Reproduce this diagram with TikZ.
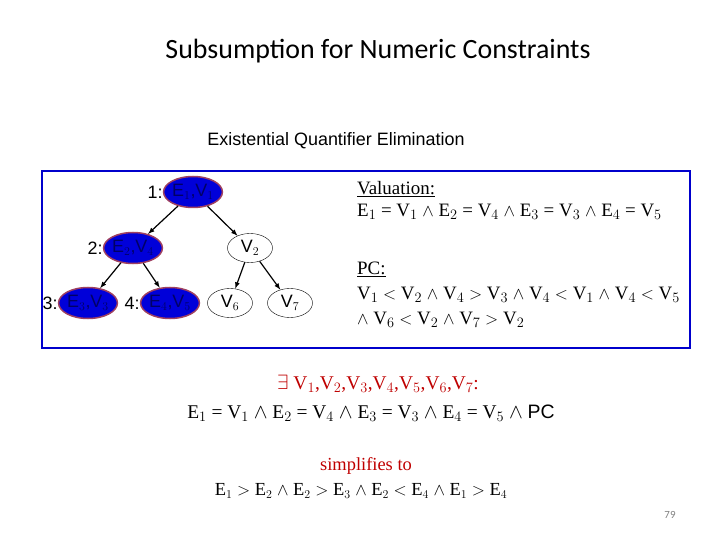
\documentclass[tikz,border=0pt]{standalone}
\usepackage{fontspec}
\setmainfont{Liberation Serif}
\setsansfont{Liberation Sans}
\newfontfamily\carlitofont{Carlito}
\usetikzlibrary{shapes.geometric}
\begin{document}
\begin{tikzpicture}[x=1bp,y=-1bp,
 fill node/.style={ellipse,fill=blue!85!black,draw=purple!50!gray,line width=1.5bp,minimum width=54bp,minimum height=31bp,inner sep=0pt,font=\sffamily\fontsize{18}{18}\selectfont,text=blue!40!black},
 open node/.style={ellipse,draw=black,minimum width=45bp,minimum height=29bp,inner sep=0pt,font=\sffamily\fontsize{18}{18}\selectfont},
 lab/.style={font=\sffamily\fontsize{18}{18}\selectfont,anchor=east,inner sep=0pt},
 arr/.style={-latex,line width=1.2bp}]
\useasboundingbox (0,0) rectangle (720,540);
\node[font=\carlitofont\fontsize{28}{28}\selectfont] (title) at (378,51) {Subsumption for Numeric Constraints};
\node[font=\sffamily\fontsize{18}{18}\selectfont] (sub) at (336,141) {Existential Quantifier Elimination};
\draw[blue!80!black,line width=2.5bp] (42,171) rectangle (690,348);
\node[fill node] (n1) at (193,192) {E$_1$,V$_1$};
\node[fill node] (n2) at (133,248) {E$_2$,V$_4$};
\node[fill node] (n3) at (88,303) {E$_3$,V$_3$};
\node[fill node] (n4) at (170,303) {E$_4$,V$_5$};
\node[open node] (v2) at (250,248) {V$_2$};
\node[open node] (v6) at (230,303) {V$_6$};
\node[open node] (v7) at (290,303) {V$_7$};
\node[lab] (l1) at (n1.west) {1:};
\node[lab] (l2) at (n2.west) {2:};
\node[lab] (l3) at (n3.west) {3:};
\node[lab] (l4) at (n4.west) {4:};
\draw[arr] (n1) -- (n2);
\draw[arr] (n1) -- (v2);
\draw[arr] (n2) -- (n3);
\draw[arr] (n2) -- (n4);
\draw[arr] (v2) -- (v6);
\draw[arr] (v2) -- (v7);
\node[font=\fontsize{19}{22}\selectfont,align=left,anchor=north west,inner sep=0pt] (val) at (357,181) {\underline{Valuation:}\\E$_1$ = V$_1$ $\wedge$ E$_2$ = V$_4$ $\wedge$ E$_3$ = V$_3$ $\wedge$ E$_4$ = V$_5$};
\node[font=\fontsize{19}{25}\selectfont,align=left,anchor=north west,inner sep=0pt] (pc) at (357,262) {\underline{PC:}\\V$_1$ $<$ V$_2$ $\wedge$ V$_4$ $>$ V$_3$ $\wedge$ V$_4$ $<$ V$_1$ $\wedge$ V$_4$ $<$ V$_5$\\$\wedge$ V$_6$ $<$ V$_2$ $\wedge$ V$_7$ $>$ V$_2$};
\node[font=\fontsize{19.5}{20}\selectfont,text=red!75!black] (ex) at (378,384) {$\exists$ V$_1$,V$_2$,V$_3$,V$_4$,V$_5$,V$_6$,V$_7$:};
\node[font=\fontsize{19.5}{20}\selectfont] (eq) at (371,413) {E$_1$ = V$_1$ $\wedge$ E$_2$ = V$_4$ $\wedge$ E$_3$ = V$_3$ $\wedge$ E$_4$ = V$_5$ $\wedge$ {\sffamily PC}};
\node[font=\fontsize{18.5}{19}\selectfont,text=red!75!black] (simp) at (366,466) {simplifies to};
\node[font=\fontsize{18.5}{19}\selectfont] (res) at (361,491) {E$_1$ $>$ E$_2$ $\wedge$ E$_2$ $>$ E$_3$ $\wedge$ E$_2$ $<$ E$_4$ $\wedge$ E$_1$ $>$ E$_4$};
\node[font=\carlitofont\fontsize{11}{11}\selectfont,text=gray] (pg) at (670,515) {79};
\end{tikzpicture}
\end{document}
